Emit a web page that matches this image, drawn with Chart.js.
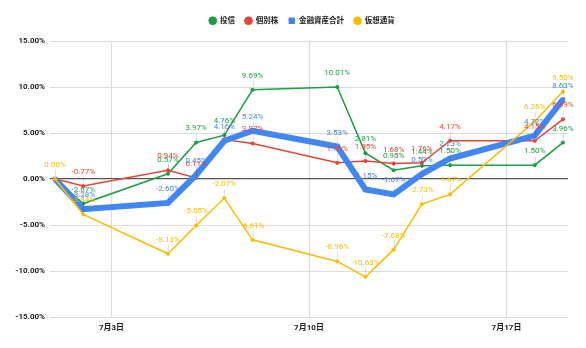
<!DOCTYPE html>
<html>
<head>
<meta charset="utf-8">
<script src="https://cdn.jsdelivr.net/npm/chart.js@4.4.0/dist/chart.umd.min.js"></script>
<style>
html,body{margin:0;padding:0;background:#fff;}
#wrap{width:586px;height:348px;position:relative;}
</style>
</head>
<body>
<div id="wrap"><canvas id="myChart"></canvas></div>
<script>
"use strict";
// 7月の日付
const days=[1,2,5,6,7,8,11,12,13,14,15,18,19];
// 騰落率 (%)
const toushin=[0,-2.67,0.57,3.97,4.76,9.69,10.01,2.81,0.95,1.44,1.50,1.50,3.96];
const kobetsu=[0,-0.77,0.94,0.11,4.30,3.87,1.76,1.95,1.68,1.76,4.17,4.15,6.49];
const goukei=[0,-3.28,-2.60,0.45,4.16,5.24,3.53,-1.15,-1.67,0.53,2.23,4.72,8.63];
const kasou=[0,-3.84,-8.13,-5.05,-2.07,-6.61,-8.96,-10.63,-7.68,-2.73,-1.67,6.26,9.50];
const dateTicks=[3,10,17];

const GREEN="#1e9e45", RED="#ea4335", BLUE="#4285f4", YELLOW="#fbbc04";
const FONT='Roboto, "Noto Sans CJK JP", sans-serif';

// ラベルを出さない点 (データセット番号 -> 点の番号)
const hideLabel={0:[0],1:[0,4],2:[0]};

function toXY(vals){
    return vals.map((v,i)=>({x:days[i],y:v}));
}

// 各点の上に値を描く
const valueLabels={
    id:"valueLabels",
    afterDatasetsDraw(chart){
        let ctx=chart.ctx;
        ctx.save();
        ctx.font="8px "+FONT;
        ctx.textAlign="center";
        ctx.textBaseline="middle";
        chart.data.datasets.forEach((ds,i)=>{
            let meta=chart.getDatasetMeta(i);
            meta.data.forEach((pt,j)=>{
                if((hideLabel[i]||[]).includes(j)) return;
                ctx.strokeStyle="rgba(0,0,0,0.12)";
                ctx.lineWidth=1;
                ctx.beginPath();
                ctx.moveTo(Math.round(pt.x)+0.5,pt.y-3);
                ctx.lineTo(Math.round(pt.x)+0.5,pt.y-9);
                ctx.stroke();
                ctx.fillStyle=ds.borderColor;
                ctx.fillText(ds.data[j].y.toFixed(2)+"%",pt.x,pt.y-14);
            });
        });
        ctx.restore();
    }
};

// 凡例の高さを固定
const legendHeight={
    id:"legendHeight",
    beforeInit(chart){
        let fit=chart.legend.fit;
        chart.legend.fit=function(){
            fit.call(this);
            this.height=34;
        };
    },
    afterLayout(chart){
        chart.legend.left+=18;
        chart.legend.right+=18;
    }
};

function lineSet(label,vals,color,order){
    return {
        label:label,
        data:toXY(vals),
        borderColor:color,
        backgroundColor:color,
        pointBackgroundColor:color,
        pointBorderColor:color,
        pointBorderWidth:1,
        borderWidth:1.5,
        pointRadius:1.6,
        tension:0,
        order:order
    };
}

let total=lineSet("金融資産合計",goukei,BLUE,2);
total.borderWidth=6;
total.pointStyle="rect";
total.pointRadius=2.5;

new Chart(document.getElementById("myChart"),{
    type:"line",
    data:{
        datasets:[
            lineSet("投信",toushin,GREEN,4),
            lineSet("個別株",kobetsu,RED,3),
            total,
            lineSet("仮想通貨",kasou,YELLOW,1)
        ]
    },
    options:{
        responsive:true,
        maintainAspectRatio:false,
        animation:false,
        layout:{padding:{top:7,right:18,bottom:0,left:0}},
        plugins:{
            tooltip:{enabled:false},
            legend:{
                position:"top",
                labels:{
                    usePointStyle:true,
                    boxWidth:7,
                    boxHeight:5.5,
                    padding:10,
                    color:"#222",
                    font:{size:7.5,weight:"bold",family:FONT},
                    sort:(a,b)=>a.datasetIndex-b.datasetIndex
                }
            }
        },
        scales:{
            x:{
                type:"linear",
                min:0.82,
                max:19.18,
                afterBuildTicks(scale){
                    scale.ticks=dateTicks.map(v=>({value:v}));
                },
                afterFit(scale){ scale.height=31; },
                grid:{color:"#dcdcdc",drawTicks:false},
                border:{display:false},
                ticks:{
                    callback:v=>"7月"+v+"日",
                    color:"#222",
                    padding:6,
                    maxRotation:0,
                    autoSkip:false,
                    font:{size:8,weight:"bold",family:FONT}
                }
            },
            y:{
                min:-15,
                max:15,
                afterFit(scale){ scale.width=50; },
                grid:{
                    color:c=>c.tick&&c.tick.value===0?"#555":"#dcdcdc",
                    lineWidth:c=>c.tick&&c.tick.value===0?1.3:1,
                    drawTicks:false
                },
                border:{display:false},
                ticks:{
                    stepSize:5,
                    callback:v=>v.toFixed(2)+"%",
                    color:"#222",
                    padding:5,
                    font:{size:8,weight:"bold",family:FONT}
                }
            }
        }
    },
    plugins:[valueLabels,legendHeight]
});
</script>
</body>
</html>
